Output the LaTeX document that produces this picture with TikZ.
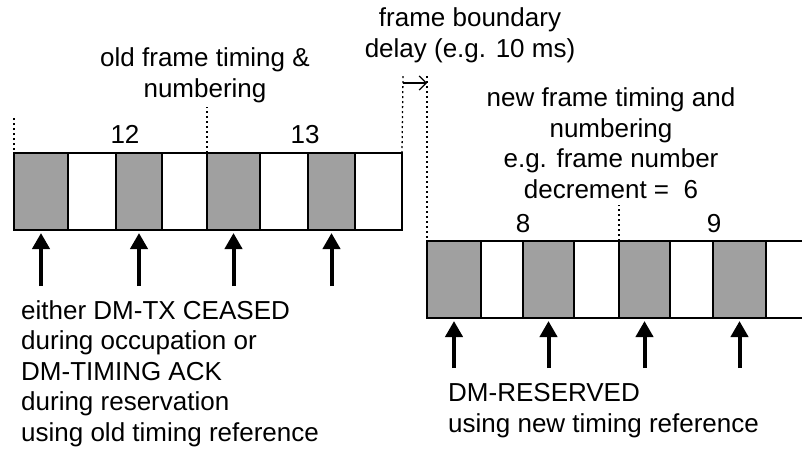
\documentclass[tikz,border=0pt]{standalone}
\usepackage{fontspec}
\setmainfont{Liberation Sans}
\usetikzlibrary{arrows.meta, positioning}
\definecolor{slotGray}{HTML}{A0A0A0}
\tikzset{
  slotbox/.style={rectangle, draw=black, line width=1.5pt, inner sep=0pt,
                  outer sep=0pt, minimum height=77pt, anchor=north west},
  frameMark/.style={line width=1.3pt, dash pattern=on 2pt off 3pt},
  sigArrow/.style={-{Triangle[length=16pt, width=17pt]}, line width=4pt, shorten >=3pt},
  delayArrow/.style={-{Straight Barb[length=7pt, width=14pt]}, line width=1.2pt},
  lbl/.style={font=\fontsize{26pt}{30.5pt}\selectfont, inner sep=0pt},
}
\begin{document}
\begin{tikzpicture}[x=1pt, y=-1pt]
  \useasboundingbox (0,0) rectangle (802,453);
  % old frame slots
  \foreach \l/\r/\fc [count=\i] in {14/68/slotGray, 68/116/white, 116/162/slotGray,
      162/207/white, 207/260/slotGray, 260/308/white, 308/355/slotGray, 355/402/white}
    \node[slotbox, fill=\fc, minimum width={\r-\l}] (o\i) at (\l,153) {};
  % new frame slots
  \foreach \l/\r/\fc [count=\i] in {427/481/slotGray, 481/523/white, 523/574/slotGray,
      574/619/white, 619/670/slotGray, 670/713/white, 713/766/slotGray}
    \node[slotbox, fill=\fc, minimum width={\r-\l}] (n\i) at (\l,241) {};
  \draw[line width=1.5pt] (n7.north east) -- (802,241);
  \draw[line width=1.5pt] (n7.south east) -- (802,318);

  % frame boundaries
  \draw[frameMark] (o1.south west) -- (14,118);
  \draw[frameMark] (o5.north west) -- (207,107);
  \draw[frameMark] (o8.north east) -- (403,75) coordinate (oldTop);
  \draw[frameMark] (n1.south west) -- (427,75) coordinate (newTop);
  \draw[frameMark] (n5.north west) -- (619,205);
  \draw[delayArrow] ([yshift=-8pt]oldTop) -- ([yshift=-8pt]newTop);

  % signalling
  \foreach \i in {1,3,5,7} {
    \draw[sigArrow] ([yshift=-56pt]o\i.south) -- (o\i.south);
    \draw[sigArrow] ([yshift=-50pt]n\i.south) -- (n\i.south);
  }

  % labels (base = last line)
  \node[lbl, anchor=base, align=center] (lblOld) at (205,97) {old frame timing \&\\numbering};
  \node[lbl, anchor=base] (num12) at (125,143) {12};
  \node[lbl, anchor=base] (num13) at (305,143) {13};
  \node[lbl, anchor=base, align=center] (lblDelay) at (470,57) {frame boundary\\delay (e.g. 10 ms)};
  \node[lbl, anchor=base, align=center] (lblNew) at (611,198)
    {new frame timing and\\numbering\\e.g. frame number\\decrement =\ \ 6};
  \node[lbl, anchor=base] (num8) at (523,232) {8};
  \node[lbl, anchor=base] (num9) at (714,232) {9};
  \node[lbl, anchor=base west, align=left] (lblOldRef) at (21,441)
    {either DM-TX CEASED\\during occupation or\\DM-TIMING ACK\\during reservation\\using old timing reference};
  \node[lbl, anchor=base west, align=left] (lblNewRef) at (448,432)
    {DM-RESERVED\\using new timing reference};
\end{tikzpicture}
\end{document}
